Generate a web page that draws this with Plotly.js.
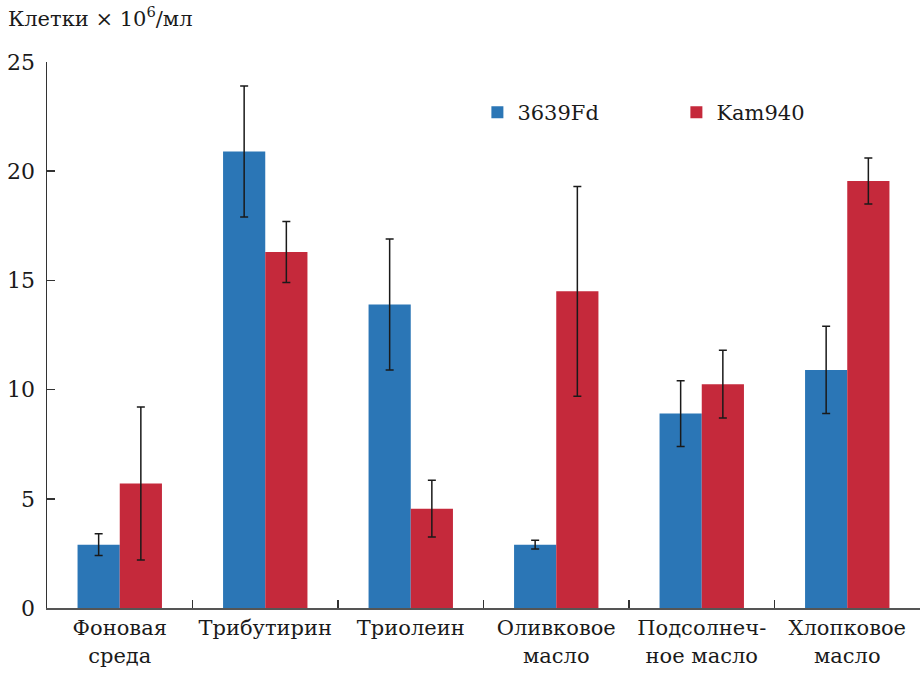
<!DOCTYPE html>
<html><head><meta charset="utf-8">
<script src="https://cdn.plot.ly/plotly-3.0.1.min.js"></script>
<style>body{margin:0;background:#fff}#chart{width:920px;height:674px}</style>
</head><body><div id="chart"></div>
<script>
const categories = ["Фоновая<br>среда", "Трибутирин", "Триолеин", "Оливковое<br>масло", "Подсолнеч-<br>ное масло", "Хлопковое<br>масло"];
const seriesNames = ["3639Fd", "Kam940"];
const values3639 = [2.9, 20.9, 13.9, 2.9, 8.9, 10.9];
const errors3639 = [0.5, 3.0, 3.0, 0.2, 1.5, 2.0];
const valuesKam = [5.7, 16.3, 4.55, 14.5, 10.25, 19.55];
const errorsKam = [3.5, 1.4, 1.3, 4.8, 1.55, 1.05];
const yTicks = [0, 5, 10, 15, 20, 25];

const font = "DejaVu Serif";
const errStyle = (arr) => ({type: "data", array: arr, visible: true, color: "#1a1a1a", thickness: 1.5, width: 4});

const traces = [
  {type: "bar", name: seriesNames[0], x: categories, y: values3639, error_y: errStyle(errors3639), marker: {color: "#2b76b6"}},
  {type: "bar", name: seriesNames[1], x: categories, y: valuesKam, error_y: errStyle(errorsKam), marker: {color: "#c5293b"}}
];

const layout = {
  width: 920, height: 674,
  margin: {l: 47, r: 0, t: 62, b: 66, autoexpand: false},
  paper_bgcolor: "#fff", plot_bgcolor: "#fff",
  barmode: "group", bargap: 0.42, bargroupgap: 0,
  font: {family: font, color: "#1a1a1a", size: 22},
  xaxis: {
    type: "category", range: [-0.5, 5.5], showgrid: false, zeroline: false,
    showline: true, linecolor: "#555", linewidth: 2, automargin: false, tickangle: 0,
    tickson: "boundaries", ticks: "inside", ticklen: 8, tickcolor: "#333", tickwidth: 1.5,
    tickfont: {family: font, size: 21, color: "#1a1a1a"}, fixedrange: true
  },
  yaxis: {
    range: [0, 25], tickvals: yTicks, ticktext: yTicks.map(String), automargin: false,
    showgrid: false, zeroline: false, showline: true, linecolor: "#333", linewidth: 1.5,
    ticks: "inside", ticklen: 8, tickcolor: "#333", tickwidth: 1.5,
    tickfont: {family: font, size: 22, color: "#1a1a1a"}, ticklabelstandoff: 6
  },
  showlegend: true,
  legend: {
    orientation: "h", x: 0.493, xanchor: "left", y: 0.945, yanchor: "top",
    font: {family: font, size: 21, color: "#1a1a1a"}, entrywidth: 154, entrywidthmode: "pixels",
    itemwidth: 30, bgcolor: "rgba(0,0,0,0)"
  },
  annotations: [{
    text: "Клетки × 10<sup>6</sup>/мл", xref: "paper", yref: "paper",
    x: -0.047, y: 1.112, xanchor: "left", yanchor: "top", showarrow: false,
    font: {family: font, size: 21, color: "#1a1a1a"}
  }]
};

Plotly.newPlot("chart", traces, layout, {displayModeBar: false, staticPlot: true});
</script></body></html>
